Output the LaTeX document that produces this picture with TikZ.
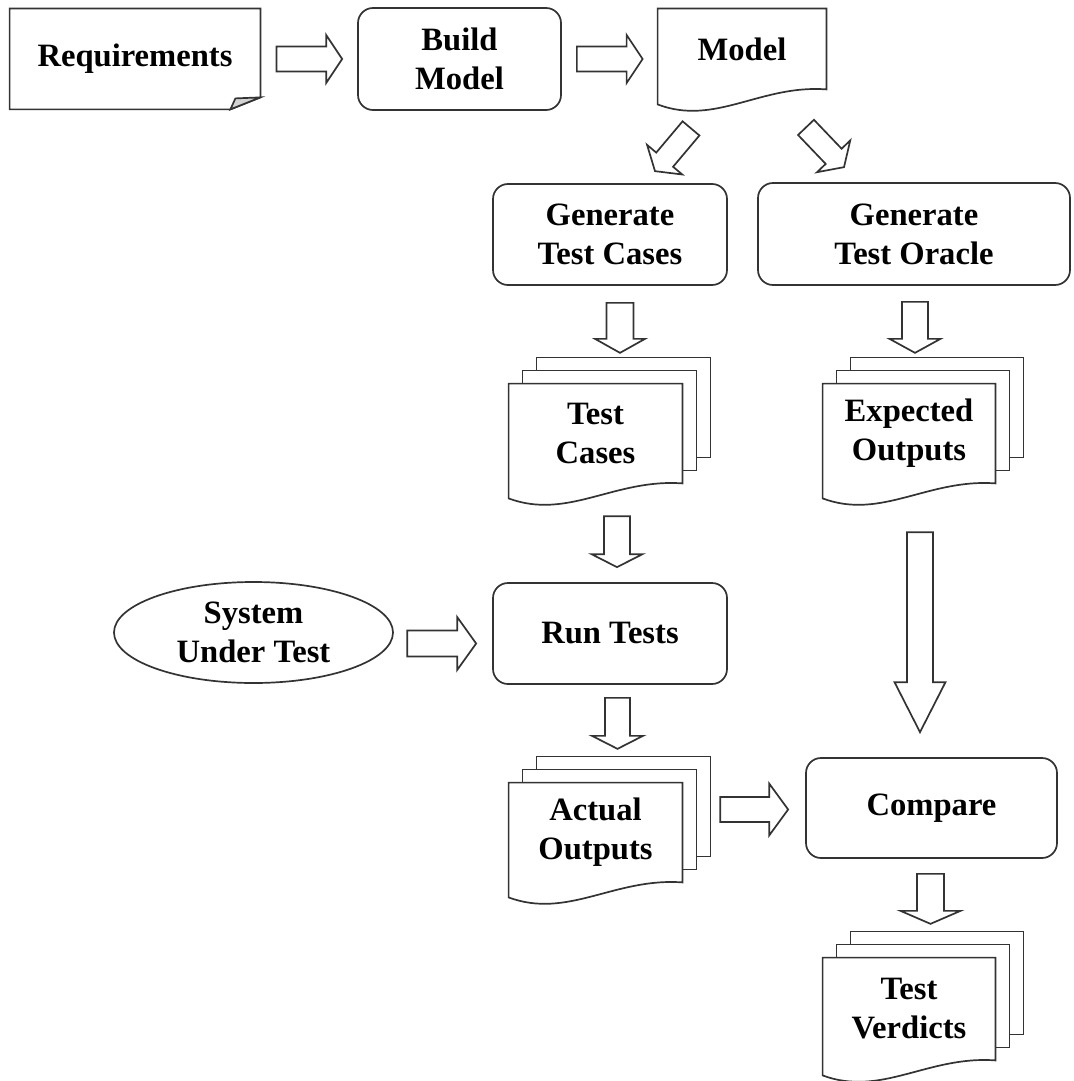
\documentclass[tikz,border=0pt]{standalone}
\usepackage{fontspec}
\setmainfont{Liberation Serif}
\usetikzlibrary{shapes.geometric,calc,backgrounds}

\tikzset{
  box/.style={inner sep=0pt, align=center, font=\fontsize{16.3}{19.5}\selectfont\bfseries},
  procbox/.style={box, draw=black!80, line width=0.85pt, rounded corners=7.5pt},
  sutshape/.style={box, ellipse, draw=black!80, line width=0.85pt},
  docline/.style={draw=black!80, line width=0.85pt, fill=white},
  blockline/.style={draw=black!80, line width=0.85pt, fill=white, line join=miter},
}

% one sheet behind a document, shifted
\newcommand{\docsheet}[2]{\draw[docline] ($(#1.north west)+(#2)$) rectangle ($(#1.south east)+(#2)$);}
% document with a wavy bottom
\newcommand{\docfront}[1]{%
  \draw[docline] (#1.south east) -- (#1.north east) -- (#1.north west)
    -- ($(#1.south west)+(0,15)$)
    .. controls ($(#1.south west)!0.34!(#1.south east)+(0,37)$)
    and ($(#1.south west)!0.61!(#1.south east)+(0,-5)$) .. (#1.south east) -- cycle;}
\newcommand{\docstack}[1]{\docsheet{#1}{28,-26}\docsheet{#1}{14,-13}\docfront{#1}}
% hollow arrow: start, end, shaft half width, head half width, head length
\newcommand{\blockarrow}[5]{%
  \draw[blockline] ($(#1)!#3!90:(#2)$) -- ($(#2)!#5!(#1)!#3!-90:(#1)$)
    -- ($(#2)!#5!(#1)!#4!-90:(#1)$) -- (#2)
    -- ($(#2)!#5!(#1)!#4!90:(#1)$) -- ($(#2)!#5!(#1)!#3!90:(#1)$)
    -- ($(#1)!#3!-90:(#2)$) -- cycle;}

\begin{document}
\begin{tikzpicture}[x=0.5pt,y=-0.5pt]
		\useasboundingbox (0,0) rectangle (1073,1081);
		
		\node[box, minimum width=125pt, minimum height=50pt] (req) at (135,59) {Requirements};
		\node[procbox, minimum width=101.5pt, minimum height=51pt] (build) at (459.5,59) {Build\\Model};
		\node[box, minimum width=84pt, minimum height=40pt] (model) at (742,49) {\raisebox{-2pt}{Model}};
		\node[procbox, minimum width=117pt, minimum height=50.5pt] (gtc) at (610,234.5) {Generate\\Test Cases};
		\node[procbox, minimum width=156pt, minimum height=51pt] (gto) at (914,234) {Generate\\Test Oracle};
		\node[box, minimum width=86.5pt, minimum height=49.5pt] (tc) at (595.5,433.5) {Test\\Cases};
		\node[box, minimum width=86pt, minimum height=49.5pt] (eo) at (909,433.5) {Expected\\Outputs};
		\node[sutshape, minimum width=139.5pt, minimum height=50.5pt] (sut) at (253.5,632.5) {System\\Under Test};
		\node[procbox, minimum width=117pt, minimum height=50.5pt] (rt) at (610,633.5) {Run Tests};
		\node[box, minimum width=86.5pt, minimum height=49.5pt] (ao) at (595.5,832.5) {Actual\\Outputs};
		\node[procbox, minimum width=125.5pt, minimum height=50pt] (cmp) at (931.5,808) {Compare};
		\node[box, minimum width=86pt, minimum height=51pt] (tv) at (909,1009) {Test\\Verdicts};
		
		\begin{pgfonlayer}{background}
			\draw[docline] (req.north west) -- (req.north east) -- ($(req.south east)+(0,-12)$)
				-- ($(req.south east)+(-30,0)$) -- (req.south west) -- cycle;
			\draw[docline, fill=gray!35] ($(req.south east)+(-30,0)$) -- ($(req.south east)+(-25,-11)$)
				-- ($(req.south east)+(0,-12)$) -- cycle;
			\docfront{model}
			\docstack{tc}
			\docstack{eo}
			\docstack{ao}
			\docstack{tv}
		\end{pgfonlayer}
		
		\coordinate (a1s) at ($(req.east)+(16,0)$);
		\coordinate (a1e) at ($(build.west)+(-15,0)$);
		\coordinate (a2s) at ($(build.east)+(15,0)$);
		\coordinate (a2e) at ($(model.west |- build.east)+(-15,0)$);
		\coordinate (a3s) at ($(model.south)+(-51,39)$);
		\coordinate (a3e) at ($(gtc.north)+(45,-12)$);
		\coordinate (a4s) at ($(model.south)+(64,38)$);
		\coordinate (a4e) at ($(gto.north)+(-70,-15)$);
		\coordinate (a5s) at ($(gtc.south)+(10,17)$);
		\coordinate (a5e) at ($(a5s)+(0,50)$);
		\coordinate (a6s) at ($(gto.south)+(1,16)$);
		\coordinate (a6e) at ($(a6s)+(0,51)$);
		\coordinate (a7e) at ($(rt.north)+(7,-15)$);
		\coordinate (a7s) at ($(a7e)+(0,-51)$);
		\coordinate (a8s) at ($(rt.south)+(7.5,13)$);
		\coordinate (a8e) at ($(a8s)+(0,51)$);
		\coordinate (a9e) at ($(cmp.north)+(-11.5,-25)$);
		\coordinate (a9s) at ($(a9e)+(0,-200)$);
		\coordinate (a10e) at ($(rt.west)+(-16,10)$);
		\coordinate (a10s) at ($(a10e)+(-69,0)$);
		\coordinate (a11e) at ($(cmp.west)+(-17,1.5)$);
		\coordinate (a11s) at ($(a11e)+(-68,0)$);
		\coordinate (a12s) at ($(cmp.south)+(-1,15)$);
		\coordinate (a12e) at ($(a12s)+(0,50)$);
		
		\blockarrow{a1s}{a1e}{6.25pt}{12pt}{8pt}
		\blockarrow{a2s}{a2e}{6.25pt}{12pt}{8pt}
		\blockarrow{a3s}{a3e}{5.5pt}{11.5pt}{7.5pt}
		\blockarrow{a4s}{a4e}{5.5pt}{11.5pt}{7.5pt}
		\blockarrow{a5s}{a5e}{6.75pt}{12.5pt}{7pt}
		\blockarrow{a6s}{a6e}{6.5pt}{12.75pt}{7pt}
		\blockarrow{a7s}{a7e}{6.5pt}{12.75pt}{6.5pt}
		\blockarrow{a8s}{a8e}{6.25pt}{12.75pt}{6.5pt}
		\blockarrow{a9s}{a9e}{6.5pt}{12.75pt}{25pt}
		\blockarrow{a10s}{a10e}{6.5pt}{13.25pt}{9.5pt}
		\blockarrow{a11s}{a11e}{6.25pt}{13pt}{9.5pt}
		\blockarrow{a12s}{a12e}{6.75pt}{15pt}{6.5pt}
\end{tikzpicture}
\end{document}
